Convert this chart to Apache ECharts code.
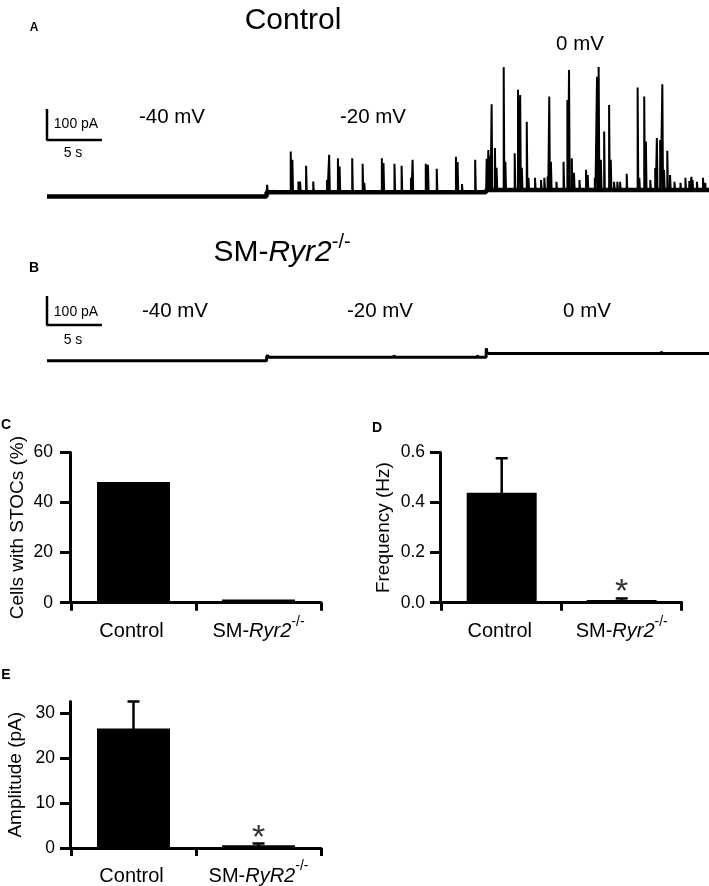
<!DOCTYPE html>
<html>
<head>
<meta charset="utf-8">
<script src="https://cdn.jsdelivr.net/npm/echarts@6/dist/echarts.min.js"></script>
<style>
html, body { margin: 0; padding: 0; background: #fff; }
#chart { width: 709px; height: 886px; }
</style>
</head>
<body>
<div id="chart"></div>
<script>
// holding steps (s): -40 mV, -20 mV, 0 mV
var stepTimes = [0, 20, 40, 60.3];

// panel A (Control): holding current per step (pA) and STOCs [time s, amplitude pA]
var levelsA = [0, 13, 21];
var spikesA40 = [];
var spikesA20 = [[20.05, 24], [20.6, 8], [21.2, 6], [22.2, 132], [22.35, 105], [22.9, 35], [23.05, 35],
  [23.6, 86], [24.25, 35], [25.5, 40], [25.7, 121], [26.5, 110], [26.65, 83], [27.8, 110], [28.75, 92],
  [28.9, 31], [30.5, 110], [30.65, 95], [31.65, 92], [32.3, 86], [33.15, 47], [33.3, 105], [34.5, 92],
  [34.7, 89], [35.5, 76], [37.25, 115], [37.4, 98], [37.8, 27], [39.0, 105]];
var spikesA0 = [[40.05, 100], [40.2, 129], [40.35, 110], [40.5, 276], [40.8, 135], [40.95, 71], [41.6, 396],
  [41.75, 91], [42.6, 118], [42.9, 323], [43.1, 306], [43.25, 71], [43.7, 220], [43.85, 39], [44.45, 39],
  [45.0, 32], [45.3, 39], [45.6, 43], [45.75, 301], [45.9, 91], [46.4, 26], [47.05, 91], [47.4, 290],
  [47.55, 387], [47.8, 102], [48.0, 55], [48.5, 32], [49.1, 65], [49.25, 48], [49.9, 39], [50.1, 365],
  [50.25, 396], [50.45, 97], [50.75, 188], [51.2, 274], [51.35, 97], [51.65, 26], [51.95, 26], [52.2, 26],
  [52.8, 52], [53.8, 330], [53.95, 39], [54.4, 301], [54.55, 156], [54.95, 32], [55.4, 71], [55.55, 167],
  [55.85, 161], [56.05, 341], [56.2, 65], [56.5, 126], [56.75, 48], [57.15, 26], [57.7, 23], [58.15, 39],
  [58.5, 29], [58.7, 42], [58.8, 32], [59.2, 26], [59.75, 39], [59.95, 23]];

// panel B (SM-Ryr2-/-)
var levelsB = [0, 12, 25];
var blipsB40 = [[4.8, -6], [7.35, -6], [11.0, -6], [11.65, -5], [12.2, -6], [14.3, -5], [16.1, -6], [18.0, -5]];
var blipsB20 = [[20.1, 7], [20.6, 6], [21.4, 6], [27.7, 6], [28.9, 6], [30.85, 6], [31.6, 7], [32.8, 6],
  [34.55, 6], [35.7, 5], [37.45, 6], [38.6, 6], [39.2, 7]];
var blipsB0 = [[40.02, 18], [41.0, 5], [42.5, 5], [44.8, 6], [45.55, 6], [46.4, 6], [48.35, 6], [49.55, 5],
  [51.1, 6], [52.65, 6], [55.3, 6], [55.95, 7], [56.6, 6], [57.3, 6]];

// scale bars
var scalePA = 100;
var scaleS = 5;

// panels C-E
var groups = ['Control', 'SM-Ryr2'];
var cellsPct = [48.2, 1.3];
var freqMean = [0.439, 0.011];
var freqErr = [0.138, 0.006];
var freqSig = ['', '*'];
var ampMean = [26.6, 0.6];
var ampErr = [6.0, 0.4];
var ampSig = ['', '*'];

var FONT = 'Liberation Sans, Arial, sans-serif';

function buildTrace(levels, events) {
  var pts = [];
  for (var s = 0; s < levels.length; s++) {
    var base = levels[s];
    pts.push([stepTimes[s], base]);
    events[s].forEach(function (ev) {
      pts.push([ev[0], base]);
      pts.push([ev[0], base + ev[1]]);
      pts.push([ev[0] + 0.06, base]);
    });
    pts.push([stepTimes[s + 1], base]);
  }
  return pts;
}

function buildSteps(levels) {
  var pts = [];
  for (var s = 0; s < levels.length; s++) {
    pts.push([stepTimes[s], levels[s]]);
    pts.push([stepTimes[s + 1], levels[s]]);
  }
  return pts;
}

function scaleBar(y0) {
  return [[0, y0 + scalePA], [0, y0], [scaleS, y0]];
}

function errorItem(params, api) {
  var x = api.value(0);
  var m = api.value(1);
  var e = api.value(2);
  var hi = api.coord([x, m + e]);
  var lo = api.coord([x, m - e]);
  var st = { stroke: '#000', lineWidth: 2.5 };
  return {
    type: 'group',
    children: [
      { type: 'line', shape: { x1: hi[0], y1: hi[1], x2: lo[0], y2: lo[1] }, style: st },
      { type: 'line', shape: { x1: hi[0] - 6, y1: hi[1], x2: hi[0] + 6, y2: hi[1] }, style: st },
      { type: 'line', shape: { x1: lo[0] - 6, y1: lo[1], x2: lo[0] + 6, y2: lo[1] }, style: st }
    ]
  };
}

function groupLabel(cap) {
  return function (v, i) {
    if (i === 0) return '{n|' + v + '}{s| }';
    return '{n|SM-}{i|' + (cap ? 'RyR2' : 'Ryr2') + '}{s|-/-}';
  };
}

var labelRich = {
  n: { fontSize: 20, fontFamily: FONT, color: '#000', verticalAlign: 'bottom' },
  i: { fontSize: 20, fontFamily: FONT, fontStyle: 'italic', color: '#000', verticalAlign: 'bottom' },
  s: { fontSize: 14, fontFamily: FONT, color: '#000', verticalAlign: 'bottom', padding: [0, 0, 13, 0] }
};

function catAxis(grid, offset, cap) {
  return {
    type: 'category', gridIndex: grid, data: groups, offset: offset,
    axisLine: { lineStyle: { color: '#000', width: 3 } },
    axisTick: { show: true, interval: 0, alignWithLabel: false, length: 8, lineStyle: { color: '#000', width: 3 } },
    axisLabel: { margin: 8, interval: 0, formatter: groupLabel(cap), rich: labelRich }
  };
}

function valAxis(grid, opt) {
  var a = {
    type: 'value', gridIndex: grid, min: 0, max: opt.max, offset: opt.offset,
    name: opt.name, nameLocation: 'middle', nameGap: opt.nameGap,
    nameTextStyle: { fontSize: opt.nameSize, fontFamily: FONT, color: '#000' },
    splitLine: { show: false },
    axisLine: { show: true, lineStyle: { color: '#000', width: 3 } },
    axisTick: { show: true, length: 10, lineStyle: { color: '#000', width: 3 } },
    axisLabel: { fontSize: 17.5, fontFamily: FONT, color: '#000', margin: opt.margin, formatter: opt.fmt }
  };
  if (opt.interval) a.interval = opt.interval;
  if (opt.ticks) {
    a.axisTick.customValues = opt.ticks;
    a.axisLabel.customValues = opt.ticks;
  }
  return a;
}

function txt(text, x, y, size, weight) {
  return {
    type: 'text', x: x, y: y,
    style: {
      text: text, fill: '#000', fontSize: size, fontFamily: FONT, fontWeight: weight || 'normal',
      textAlign: 'center', textVerticalAlign: 'middle', align: 'center', verticalAlign: 'middle'
    }
  };
}

var sigLabel = { show: true, position: 'top', distance: 0, offset: [0, 10], fontSize: 34, fontFamily: FONT, color: '#333' };
var chart = echarts.init(document.getElementById('chart'));

var option = {
  animation: false,
  backgroundColor: '#fff',
  grid: [
    { left: 47, top: 60, width: 662, height: 139.5 },
    { left: 47, top: 291.1, width: 662, height: 73.95 },
    { left: 71, top: 452.5, width: 250, height: 150.2 },
    { left: 441.7, top: 452.5, width: 240, height: 150.2 },
    { left: 71, top: 701.5, width: 250, height: 148.5 }
  ],
  xAxis: [
    { type: 'value', gridIndex: 0, min: 0, max: 60.3, show: false },
    { type: 'value', gridIndex: 1, min: 0, max: 60.3, show: false },
    catAxis(2, 4, false),
    catAxis(3, 4, false),
    catAxis(4, 3, true)
  ],
  yAxis: [
    { type: 'value', gridIndex: 0, min: -10, max: 440, show: false },
    { type: 'value', gridIndex: 1, min: -15, max: 240, show: false },
    valAxis(2, { max: 60, interval: 20, offset: 1, name: 'Cells with STOCs (%)', nameGap: 43, nameSize: 19, margin: 17 }),
    valAxis(3, { max: 0.6, interval: 0.2, offset: 1.7, name: 'Frequency (Hz)', nameGap: 47, nameSize: 19, margin: 15,
      fmt: function (v) { return v.toFixed(1); } }),
    valAxis(4, { max: 32.6, ticks: [0, 10, 20, 30], offset: 1, name: 'Amplitude (pA)', nameGap: 45, nameSize: 19, margin: 15 })
  ],
  series: [
    { type: 'line', xAxisIndex: 0, yAxisIndex: 0, symbol: 'none', lineStyle: { color: '#000', width: 4.5 },
      data: buildSteps(levelsA) },
    { type: 'line', xAxisIndex: 0, yAxisIndex: 0, symbol: 'none', lineStyle: { color: '#000', width: 2 },
      data: buildTrace(levelsA, [spikesA40, spikesA20, spikesA0]) },
    { type: 'line', xAxisIndex: 0, yAxisIndex: 0, symbol: 'none', clip: false, lineStyle: { color: '#000', width: 2.5 },
      data: scaleBar(182) },
    { type: 'line', xAxisIndex: 1, yAxisIndex: 1, symbol: 'none', lineStyle: { color: '#000', width: 3 },
      data: buildTrace(levelsB, [blipsB40, blipsB20, blipsB0]) },
    { type: 'line', xAxisIndex: 1, yAxisIndex: 1, symbol: 'none', clip: false, lineStyle: { color: '#000', width: 2.5 },
      data: scaleBar(123) },
    { type: 'bar', xAxisIndex: 2, yAxisIndex: 2, barWidth: 73, itemStyle: { color: '#000' }, data: cellsPct },
    { type: 'bar', xAxisIndex: 3, yAxisIndex: 3, barWidth: 70, itemStyle: { color: '#000' }, data: freqMean,
      label: Object.assign({ formatter: function (p) { return freqSig[p.dataIndex]; } }, sigLabel) },
    { type: 'custom', xAxisIndex: 3, yAxisIndex: 3, renderItem: errorItem, z: 3,
      data: freqMean.map(function (m, i) { return [i, m, freqErr[i]]; }) },
    { type: 'bar', xAxisIndex: 4, yAxisIndex: 4, barWidth: 73, itemStyle: { color: '#000' }, data: ampMean,
      label: Object.assign({ formatter: function (p) { return ampSig[p.dataIndex]; } }, sigLabel) },
    { type: 'custom', xAxisIndex: 4, yAxisIndex: 4, renderItem: errorItem, z: 3, clip: false,
      data: ampMean.map(function (m, i) { return [i, m, ampErr[i]]; }) }
  ],
  graphic: [
    txt('A', 34, 28, 12, 'bold'),
    txt('Control', 293, 21, 30),
    txt('0 mV', 580, 44, 20.5),
    txt('-40 mV', 172, 117, 20.5),
    txt('-20 mV', 373, 117, 20.5),
    txt('100 pA', 76, 124, 14),
    txt('5 s', 73, 153, 14),
    txt('B', 34, 268, 14, 'bold'),
    {
      type: 'text', x: 282, y: 250,
      style: {
        text: '{m|SM-}{i|Ryr2}{s|-/-}', fill: '#000',
        textAlign: 'center', textVerticalAlign: 'middle', align: 'center', verticalAlign: 'middle',
        rich: {
          m: { fontSize: 30, fontFamily: FONT, verticalAlign: 'bottom' },
          i: { fontSize: 30, fontFamily: FONT, fontStyle: 'italic', verticalAlign: 'bottom' },
          s: { fontSize: 20, fontFamily: FONT, verticalAlign: 'bottom', padding: [0, 0, 16, 0] }
        }
      }
    },
    txt('-40 mV', 175, 311, 20.5),
    txt('-20 mV', 380, 311, 20.5),
    txt('0 mV', 587, 311, 20.5),
    txt('100 pA', 76, 312, 14),
    txt('5 s', 73, 340, 14),
    txt('C', 6, 425, 14, 'bold'),
    txt('D', 377, 428, 14, 'bold'),
    txt('E', 6, 675, 14, 'bold')
  ]
};

chart.setOption(option);
</script>
</body>
</html>
